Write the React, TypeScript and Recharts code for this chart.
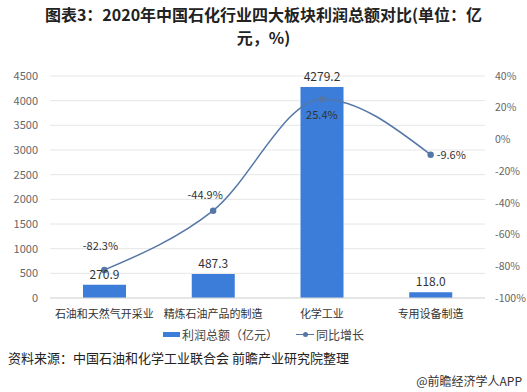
import React from 'react';
import { ComposedChart, Bar, Line, XAxis, YAxis, CartesianGrid, LabelList } from 'recharts';

const categories = ['石油和天然气开采业', '精炼石油产品的制造', '化学工业', '专用设备制造'];
const profits = [270.9, 487.3, 4279.2, 118.0];
const growth = [-82.3, -44.9, 25.4, -9.6];
const leftTicks = [0, 500, 1000, 1500, 2000, 2500, 3000, 3500, 4000, 4500];
const rightTicks = [-100, -80, -60, -40, -20, 0, 20, 40];

const data = categories.map((c, i) => ({ name: c, profit: profits[i], growth: growth[i] }));

const FONT = '"Noto Sans CJK SC", "Noto Sans", sans-serif';
const BAR = '#3b7dd8';
const LINE = '#5577a8';

const growthLabel = (props: any) => {
  const { x, y, value, index } = props;
  let dx = -4, dy = -20, anchor: any = 'middle';
  if (index === 1) { dx = -8; dy = -12; }
  if (index === 2) { dx = 0; dy = 20; }
  if (index === 3) { dx = 6; dy = 4; anchor = 'start'; }
  return (
    <text x={x + dx} y={y + dy} textAnchor={anchor} fontSize={11} fill="#333" fontFamily={FONT}>
      {`${value.toFixed(1)}%`}
    </text>
  );
};

export default function App() {
  return (
    <div style={{ position: 'absolute', left: 0, top: 0, width: 527, height: 392, background: '#fff', fontFamily: FONT, overflow: 'hidden' }}>
      <div style={{ position: 'absolute', top: 3, left: 0, width: 527, textAlign: 'center', fontWeight: 'bold', fontSize: 16, lineHeight: '23px', color: '#222' }}>
        <div>图表3：2020年中国石化行业四大板块利润总额对比(单位：亿</div>
        <div>元，%)</div>
      </div>
      <div style={{ position: 'absolute', left: 0, top: 0 }}>
        <ComposedChart width={527} height={392} data={data} margin={{ top: 76, right: 0, left: 8, bottom: 64 }}>
          <CartesianGrid yAxisId="l" vertical={false} stroke="#e6e6e6" />
          <XAxis dataKey="name" axisLine={{ stroke: '#d9d9d9' }} tickLine={false} height={30}
            tick={{ fontSize: 11, fill: '#333', fontFamily: FONT }} interval={0} tickMargin={6} />
          <YAxis yAxisId="l" domain={[0, 4500]} ticks={leftTicks} width={42} axisLine={false} tickLine={false}
            tick={{ fontSize: 11, fill: '#666', fontFamily: FONT }} tickMargin={6} />
          <YAxis yAxisId="r" orientation="right" domain={[-100, 40]} ticks={rightTicks} width={42}
            axisLine={false} tickLine={false} tick={{ fontSize: 10.5, fill: '#666', fontFamily: FONT }}
            tickFormatter={(v: number) => `${v}%`} tickMargin={4} />
          <Bar yAxisId="l" dataKey="profit" fill={BAR} barSize={43} isAnimationActive={false}>
            <LabelList dataKey="profit" position="top" offset={6}
              formatter={(v: any) => Number(v).toFixed(1)}
              style={{ fontSize: 12, fill: '#333', fontFamily: FONT }} />
          </Bar>
          <Line yAxisId="r" type="monotone" dataKey="growth" stroke={LINE} strokeWidth={1.5}
            dot={{ r: 2.5, fill: LINE, stroke: LINE }} isAnimationActive={false}>
            <LabelList dataKey="growth" content={growthLabel} />
          </Line>
        </ComposedChart>
      </div>
      <div style={{ position: 'absolute', top: 326, left: 0, width: 527, display: 'flex', justifyContent: 'center', alignItems: 'center', fontSize: 12, color: '#444' }}>
        <span style={{ display: 'inline-block', width: 17, height: 5, background: BAR, marginRight: 2 }} />
        <span>利润总额（亿元）</span>
        <span style={{ display: 'inline-block', width: 18, height: 10, position: 'relative', marginLeft: 18, marginRight: 2 }}>
          <span style={{ position: 'absolute', left: 0, top: 4, width: 18, height: 1.5, background: LINE }} />
          <span style={{ position: 'absolute', left: 7, top: 2.5, width: 4.5, height: 4.5, borderRadius: 3, background: LINE }} />
        </span>
        <span>同比增长</span>
      </div>
      <div style={{ position: 'absolute', top: 348, left: 8, fontSize: 13, color: '#222' }}>
        资料来源：中国石油和化学工业联合会 前瞻产业研究院整理
      </div>
      <div style={{ position: 'absolute', top: 372, right: 5, fontSize: 12, color: '#333' }}>
        @前瞻经济学人APP
      </div>
    </div>
  );
}
